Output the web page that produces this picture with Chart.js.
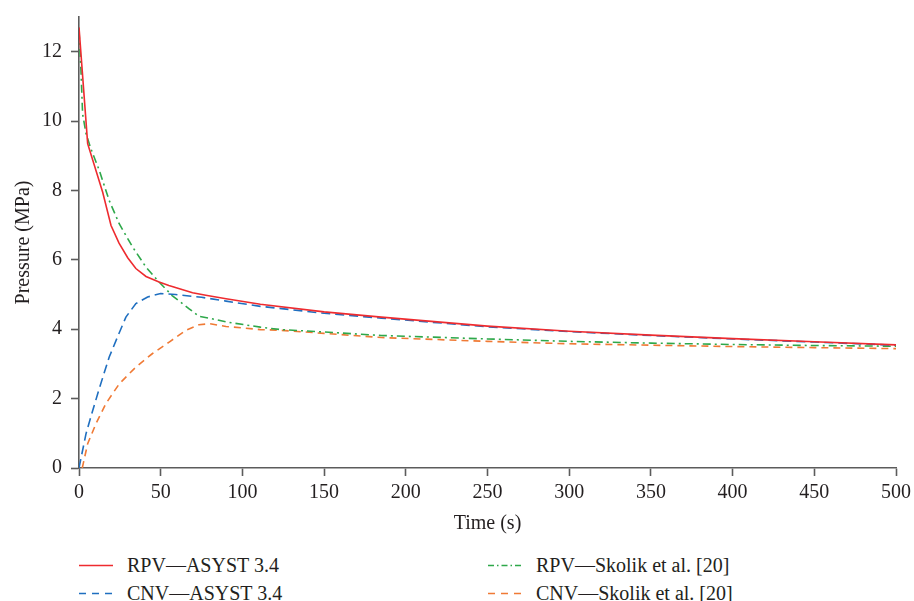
<!DOCTYPE html>
<html>
<head>
<meta charset="utf-8">
<script src="https://cdn.jsdelivr.net/npm/chart.js@4/dist/chart.umd.min.js"></script>
<style>
  html, body { margin: 0; padding: 0; background: #fff; }
  #wrap { position: relative; width: 914px; height: 601px; }
  #pressureChart { position: absolute; left: 0; top: 0; }
  .legend-item {
    position: absolute;
    height: 24px;
    font-family: "Liberation Serif", "DejaVu Serif", serif;
    font-size: 20px;
    line-height: 24px;
    color: #231f20;
    white-space: nowrap;
  }
  .legend-item svg { position: absolute; left: 0; top: 11px; }
  .legend-item span { position: absolute; left: 48px; top: 0; }
</style>
</head>
<body>
<div id="wrap">
  <canvas id="pressureChart" width="914" height="545"></canvas>
  <div id="legend"></div>
</div>
<script>
/* ===============================
   DADOS
================================ */

const xTicks = [0, 50, 100, 150, 200, 250, 300, 350, 400, 450, 500];
const yTicks = [0, 2, 4, 6, 8, 10, 12];

const timeRpvAsyst = [0, 5.3, 14.5, 19.6, 24.5, 29.8, 34.8, 41, 49, 55, 59, 69.5, 77.6, 90, 111, 150, 185, 250, 300, 350, 400, 450, 500];
const pressRpvAsyst = [12.7, 9.35, 7.95, 6.99, 6.48, 6.06, 5.75, 5.52, 5.36, 5.26, 5.2, 5.05, 4.98, 4.88, 4.72, 4.5, 4.35, 4.09, 3.94, 3.83, 3.73, 3.64, 3.55];

const timeCnvAsyst = [0, 4.3, 8.4, 12.4, 18.5, 23.6, 28.7, 34.8, 42, 50, 59, 75, 90, 111, 150, 185, 250, 300, 350, 400, 450, 500];
const pressCnvAsyst = [0, 0.99, 1.66, 2.29, 3.2, 3.78, 4.35, 4.74, 4.93, 5.03, 5.0, 4.92, 4.81, 4.66, 4.46, 4.32, 4.07, 3.93, 3.82, 3.72, 3.63, 3.54];

const timeRpvSkolik = [0, 1.2, 2.2, 4.3, 7.3, 12.4, 18.5, 24.6, 32.8, 41, 49, 57, 67.4, 73.5, 79.7, 90, 111, 123.5, 150, 185, 250, 300, 350, 400, 450, 500];
const pressRpvSkolik = [12.6, 11.46, 10.21, 9.64, 9.2, 8.58, 7.71, 7.04, 6.37, 5.79, 5.36, 4.97, 4.59, 4.37, 4.32, 4.21, 4.06, 3.99, 3.92, 3.82, 3.72, 3.65, 3.6, 3.56, 3.53, 3.51];

const timeCnvSkolik = [2, 5.3, 10.4, 16.5, 24.7, 34.8, 45, 55.2, 65.4, 73.5, 79.7, 90, 111, 123.5, 150, 185, 250, 300, 350, 400, 450, 500];
const pressCnvSkolik = [0, 0.7, 1.28, 1.86, 2.43, 2.91, 3.3, 3.63, 3.97, 4.13, 4.16, 4.08, 3.99, 3.97, 3.88, 3.76, 3.65, 3.58, 3.54, 3.5, 3.47, 3.44];

const seriesLabels = ["RPV—ASYST 3.4", "CNV—ASYST 3.4", "RPV—Skolik et al. [20]", "CNV—Skolik et al. [20]"];

/* ===============================
   ESTILO
================================ */

const FONT = "'Liberation Serif', 'DejaVu Serif', serif";
const TEXT = "#231f20";
const AXIS = "#5c5c5c";

const seriesStyle = [
  { color: "#ee2b2f", dash: [], legendDash: "" },
  { color: "#1f6fc0", dash: [9, 5], legendDash: "7 6" },
  { color: "#2ea84a", dash: [8, 4, 2, 4], legendDash: "6 3 1.5 3" },
  { color: "#f07a35", dash: [7, 5], legendDash: "7 6" }
];

function toPoints(xs, ys) {
  return xs.map((x, i) => ({ x, y: ys[i] }));
}

const seriesData = [
  toPoints(timeRpvAsyst, pressRpvAsyst),
  toPoints(timeCnvAsyst, pressCnvAsyst),
  toPoints(timeRpvSkolik, pressRpvSkolik),
  toPoints(timeCnvSkolik, pressCnvSkolik)
];

/* ===============================
   GRÁFICO
================================ */

const ctx = document.getElementById("pressureChart");

new Chart(ctx, {
  type: "line",
  data: {
    datasets: seriesData.map((d, i) => ({
      label: seriesLabels[i],
      data: d,
      borderColor: seriesStyle[i].color,
      borderDash: seriesStyle[i].dash,
      borderWidth: 1.6,
      pointRadius: 0,
      tension: 0,
      fill: false
    }))
  },
  options: {
    responsive: false,
    animation: false,
    events: [],
    layout: { padding: { left: 0, top: 17, right: 18, bottom: 0 } },
    plugins: {
      legend: { display: false },
      tooltip: { enabled: false }
    },
    scales: {
      x: {
        type: "linear",
        min: 0,
        max: 500,
        afterFit: s => { s.height = 77; s.paddingLeft = 0; s.paddingRight = 0; },
        afterBuildTicks: s => { s.ticks = xTicks.map(v => ({ value: v })); },
        border: { color: AXIS, width: 1.6 },
        grid: { drawOnChartArea: false, drawTicks: true, tickLength: 8, tickColor: AXIS, tickWidth: 1.6 },
        ticks: { color: TEXT, font: { family: FONT, size: 20 }, padding: 5, maxRotation: 0 },
        title: { display: true, text: "Time (s)", color: TEXT, font: { family: FONT, size: 20 }, padding: { top: 0, bottom: 9 } }
      },
      y: {
        type: "linear",
        min: 0,
        max: 13,
        afterFit: s => { s.width = 79; s.paddingTop = 0; s.paddingBottom = 0; },
        afterBuildTicks: s => { s.ticks = yTicks.map(v => ({ value: v })); },
        border: { color: AXIS, width: 1.6 },
        grid: { drawOnChartArea: false, drawTicks: true, tickLength: 8, tickColor: AXIS, tickWidth: 1.6 },
        ticks: { color: TEXT, font: { family: FONT, size: 20 }, padding: 9 },
        title: { display: true, text: "Pressure (MPa)", color: TEXT, font: { family: FONT, size: 20 }, padding: { top: 12, bottom: 0 } }
      }
    }
  }
});

/* ===============================
   LEGENDA (2 colunas)
================================ */

const legendPos = [
  { left: 79, top: 553 },
  { left: 79, top: 581 },
  { left: 488, top: 553 },
  { left: 488, top: 581 }
];

const legend = document.getElementById("legend");
seriesLabels.forEach((label, i) => {
  const item = document.createElement("div");
  item.className = "legend-item";
  item.style.left = legendPos[i].left + "px";
  item.style.top = legendPos[i].top + "px";
  const st = seriesStyle[i];
  item.innerHTML =
    `<svg width="34" height="3"><line x1="0" y1="1.5" x2="34" y2="1.5" stroke="${st.color}" stroke-width="1.6"` +
    (st.legendDash ? ` stroke-dasharray="${st.legendDash}"` : "") + `/></svg><span>${label}</span>`;
  legend.appendChild(item);
});
</script>
</body>
</html>
